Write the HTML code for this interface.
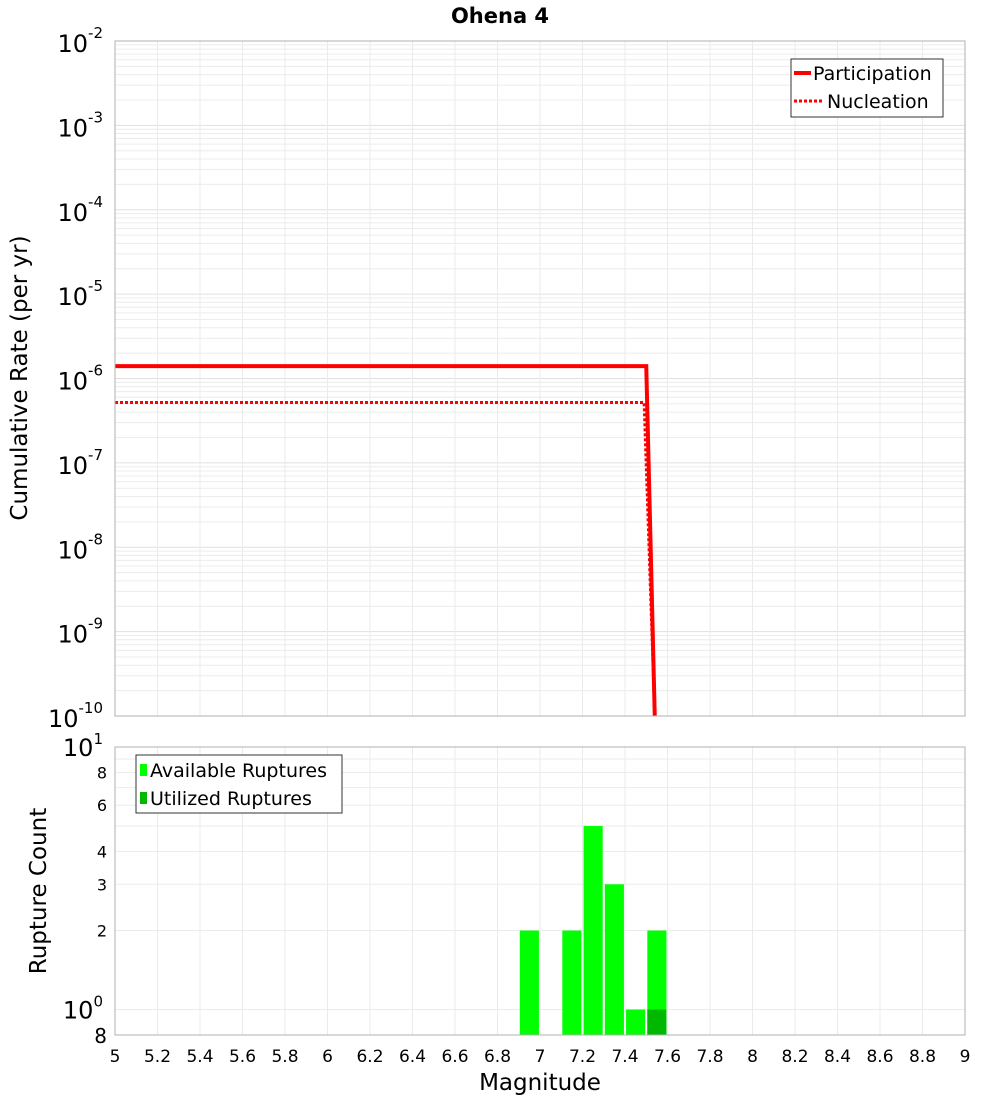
<!DOCTYPE html>
<html><head><meta charset="utf-8"><style>
body{margin:0;background:#fff;font-family:"Liberation Sans","DejaVu Sans",sans-serif}
</style></head><body>
<svg id="c" width="1000" height="1100" xmlns="http://www.w3.org/2000/svg" font-family="DejaVu Sans, Liberation Sans, sans-serif">
<text x="500" y="23" text-anchor="middle" font-size="21" font-weight="bold">Ohena 4</text>
<g id="topg"></g>
<g id="botg"></g>
<text transform="translate(27,378) rotate(-90)" text-anchor="middle" font-size="23">Cumulative Rate (per yr)</text>
<text transform="translate(46,891) rotate(-90)" text-anchor="middle" font-size="23">Rupture Count</text>
<text x="540" y="1090" text-anchor="middle" font-size="23">Magnitude</text>
</svg>
<script>
const partX=[5,7.5,7.54];
const partY=[1.4e-6,1.4e-6,1e-10];
const nuclX=[5,7.49,7.54];
const nuclY=[5.2e-7,5.2e-7,1e-10];
const binCenters=[6.95,7.15,7.25,7.35,7.45,7.55];
const availCounts=[2,2,5,3,1,2];
const utilCenters=[7.55];
const utilCounts=[1];
const xTicks=[5,5.2,5.4,5.6,5.8,6,6.2,6.4,6.6,6.8,7,7.2,7.4,7.6,7.8,8,8.2,8.4,8.6,8.8,9];
const countTickVals=[2,3,4,6,8];

const NS="http://www.w3.org/2000/svg";
const L=115,R=965,T1=41,B1=716,T2=747,B2=1035;
const x=v=>L+(v-5)/4*(R-L);
const y1=v=>T1+(-2-Math.log10(v))/8*(B1-T1);
const lmin=Math.log10(0.8),lmax=1;
const y2=v=>B2-(Math.log10(v)-lmin)/(lmax-lmin)*(B2-T2);
function mk(p,tag,a,txt){const e=document.createElementNS(NS,tag);for(const k in a)e.setAttribute(k,a[k]);if(txt!==undefined)e.textContent=txt;p.appendChild(e);return e;}
const topG=document.getElementById('topg'),botG=document.getElementById('botg');
for(let d=-10;d<-2;d++)for(let m=1;m<10;m++){const yy=y1(m*Math.pow(10,d));const g=mk(topG,'line',{x1:L,x2:R,y1:yy,y2:yy,stroke:m==1?'#e0e0e0':'#ececec','stroke-width':1});

}
xTicks.forEach(t=>{[topG,botG].forEach((p,i)=>{const g=mk(p,'line',{x1:x(t),x2:x(t),y1:i?T2:T1,y2:i?B2:B1,stroke:'#ebebeb'});

});
const tl=mk(botG,'text',{x:x(t),y:1062,'text-anchor':'middle','font-size':17},String(t));

});
[1,2,3,4,5,6,7,8,9,10].forEach(v=>{const yy=y2(v);const g=mk(botG,'line',{x1:L,x2:R,y1:yy,y2:yy,stroke:'#ebebeb'});

});
for(let d=-10;d<=-2;d++){const yy=y1(Math.pow(10,d));const t=mk(topG,'text',{x:103,y:yy+11,'text-anchor':'end','font-size':24});


t.innerHTML='10<tspan dy="-14" font-size="15">'+d+'</tspan>';}
countTickVals.forEach(v=>{const t=mk(botG,'text',{x:107,y:y2(v)+6,'text-anchor':'end','font-size':16},String(v));

});
[[1,0],[10,1]].forEach(([v,e])=>{const t=mk(botG,'text',{x:103,y:y2(v)+9,'text-anchor':'end','font-size':24});


t.innerHTML='10<tspan dy="-12" font-size="15">'+e+'</tspan>';});
const t8=mk(botG,'text',{x:107,y:1043,'text-anchor':'end','font-size':20},'8');


const pp=mk(topG,'polyline',{points:partX.map((v,i)=>x(v)+','+y1(partY[i])).join(' '),fill:'none',stroke:'#f00','stroke-width':4});


const np=mk(topG,'polyline',{points:nuclX.map((v,i)=>x(v)+','+y1(nuclY[i])).join(' '),fill:'none',stroke:'#f00','stroke-width':3,'stroke-dasharray':'3,2'});


const bw=0.09;
binCenters.forEach((c,i)=>{const yy=y2(availCounts[i]);const b=mk(botG,'rect',{x:x(c-bw/2),y:yy,width:x(c+bw/2)-x(c-bw/2),height:B2-yy,fill:'#00ff00'});

});
utilCenters.forEach((c,i)=>{const yy=y2(utilCounts[i]);const b=mk(botG,'rect',{x:x(c-bw/2),y:yy,width:x(c+bw/2)-x(c-bw/2),height:B2-yy,fill:'#00b800'});

});
[[T1,B1],[T2,B2]].forEach(([a,b],i)=>{const f=mk(i?botG:topG,'rect',{x:L,y:a,width:R-L,height:b-a,fill:'none',stroke:'#b0b0b0'});

});
const lg=mk(topG,'g',{});


mk(lg,'rect',{x:791,y:59,width:152,height:58,fill:'#fff',stroke:'#333'});
mk(lg,'line',{x1:794,x2:811,y1:73,y2:73,stroke:'#f00','stroke-width':4});
mk(lg,'text',{x:813,y:80,'font-size':19},'Participation');
mk(lg,'line',{x1:794,x2:823,y1:101,y2:101,stroke:'#f00','stroke-width':3,'stroke-dasharray':'3,2'});
mk(lg,'text',{x:827,y:108,'font-size':19},'Nucleation');
const lg2=mk(botG,'g',{});


mk(lg2,'rect',{x:136,y:755,width:206,height:58,fill:'#fff',stroke:'#333'});
mk(lg2,'rect',{x:140,y:764,width:7,height:12,fill:'#00ff00'});
mk(lg2,'text',{x:150,y:777,'font-size':19},'Available Ruptures');
mk(lg2,'rect',{x:140,y:792,width:7,height:12,fill:'#00b800'});
mk(lg2,'text',{x:150,y:805,'font-size':19},'Utilized Ruptures');
</script>
</body></html>
